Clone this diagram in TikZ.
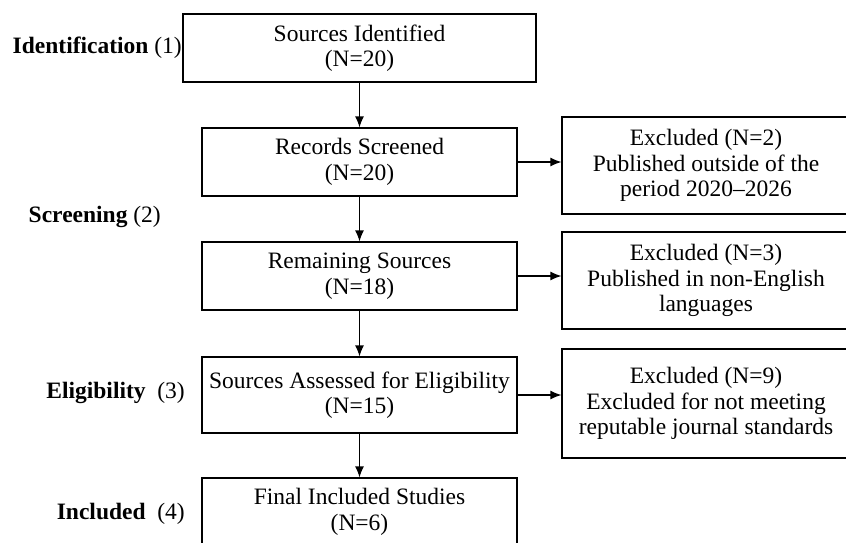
\documentclass[tikz,border=0pt]{standalone}
\usepackage{fontspec}
\setmainfont{Liberation Serif}
\usetikzlibrary{arrows.meta}

\tikzset{
  stagebox/.style={draw, line width=1.2pt, align=center, inner sep=0pt,
    minimum width=315pt, minimum height=68pt},
  exclbox/.style={draw, line width=1.2pt, align=center, inner sep=0pt,
    minimum width=288pt, minimum height=97pt},
  phase/.style={anchor=east, inner sep=0pt},
  flow/.style={-{Latex[length=11pt,width=9pt]}, line width=1.2pt}
}

\begin{document}
\begin{tikzpicture}[x=1pt, y=-1pt, font=\fontsize{23.5}{25.5}\selectfont]
\useasboundingbox (0,0) rectangle (846,543);

% main stages
  \node[stagebox, minimum width=353pt] (ident) at (359.5,48) {Sources Identified\\(N=20)};
  \node[stagebox] (screen) at (359.5,162) {Records Screened\\(N=20)};
  \node[stagebox] (remain) at (359.5,276) {Remaining Sources\\(N=18)};
  \node[stagebox, minimum height=76pt] (assess) at (359.5,395) {Sources Assessed for Eligibility\\(N=15)};
  \node[stagebox] (final) at (359.5,512) {Final Included Studies\\(N=6)};

% exclusions
  \node[exclbox] (excla) at (706,165.5) {Excluded (N=2)\\Published outside of the\\period 2020--2026};
  \node[exclbox] (exclb) at (706,280.5) {Excluded (N=3)\\Published in non-English\\languages};
  \node[exclbox, minimum height=109pt] (exclc) at (706,403.5) {Excluded (N=9)\\Excluded for not meeting\\reputable journal standards};

% phases
  \node[phase] (pident) at (182,48) {\textbf{Identification} (1)};
  \node[phase] (pscreen) at (161,217) {\textbf{Screening} (2)};
  \node[phase] (passess) at (185,393) {\textbf{Eligibility}\ \ (3)};
  \node[phase] (pfinal) at (185,514) {\textbf{Included}\ \ (4)};

% arrows
  \draw[flow] (ident) -- (screen);
  \draw[flow] (screen) -- (remain);
  \draw[flow] (remain) -- (assess);
  \draw[flow] (assess) -- (final);
  \draw[flow] (screen.east) -- (screen.east -| excla.west);
  \draw[flow] (remain.east) -- (remain.east -| exclb.west);
  \draw[flow] (assess.east) -- (assess.east -| exclc.west);

\end{tikzpicture}
\end{document}
